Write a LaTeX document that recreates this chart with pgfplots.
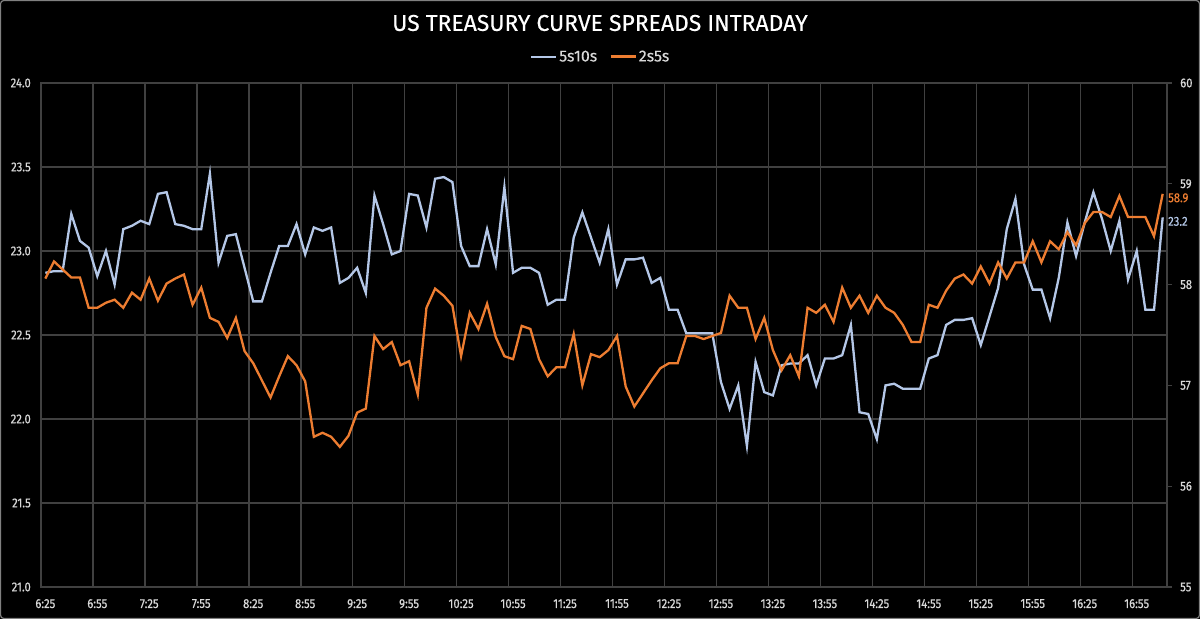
\documentclass[border=0pt]{standalone}
\usepackage{pgfplots}
\pgfplotsset{compat=1.18}
\usepackage{pgfplotstable}
\usetikzlibrary{backgrounds}
\usepackage{fontspec}
\setmainfont{Fira Sans}[FakeBold=0.4]
\newfontfamily\tickfont{Fira Sans}[FakeStretch=0.87, FakeBold=0.5]

\definecolor{bluespread}{HTML}{B4C7E7}
\definecolor{orangespread}{HTML}{ED7D31}
\definecolor{gridgray}{HTML}{404040}
\definecolor{labelgray}{HTML}{D9D9D9}
\definecolor{framegray}{HTML}{808080}

% 5-minute bars from 6:25 (idx 0) to 17:10 (idx 129)
% s510: 5s10s spread (left axis), s25: 2s5s spread (right axis)
\pgfplotstableread{
idx s510 s25
0 22.87 58.06
1 22.88 58.23
2 22.88 58.15
3 23.22 58.07
4 23.06 58.07
5 23.02 57.77
6 22.85 57.77
7 23.00 57.82
8 22.80 57.85
9 23.13 57.77
10 23.15 57.92
11 23.18 57.85
12 23.16 58.06
13 23.34 57.84
14 23.35 58.01
15 23.16 58.06
16 23.15 58.10
17 23.13 57.80
18 23.13 57.97
19 23.46 57.67
20 22.93 57.63
21 23.09 57.47
22 23.10 57.67
23 22.90 57.34
24 22.70 57.22
25 22.70 57.05
26 22.87 56.88
27 23.03 57.09
28 23.03 57.29
29 23.16 57.20
30 22.98 57.04
31 23.14 56.49
32 23.12 56.53
33 23.14 56.49
34 22.81 56.39
35 22.84 56.50
36 22.90 56.73
37 22.75 56.77
38 23.33 57.49
39 23.16 57.36
40 22.98 57.43
41 23.00 57.20
42 23.34 57.24
43 23.33 56.91
44 23.14 57.77
45 23.43 57.96
46 23.44 57.89
47 23.41 57.79
48 23.03 57.29
49 22.91 57.72
50 22.91 57.56
51 23.13 57.81
52 22.92 57.48
53 23.38 57.29
54 22.87 57.26
55 22.90 57.59
56 22.90 57.56
57 22.87 57.26
58 22.68 57.09
59 22.71 57.18
60 22.71 57.18
61 23.08 57.51
62 23.23 57.00
63 23.08 57.31
64 22.93 57.28
65 23.13 57.35
66 22.80 57.49
67 22.95 56.99
68 22.95 56.79
69 22.96 56.92
70 22.81 57.05
71 22.84 57.17
72 22.65 57.22
73 22.65 57.22
74 22.51 57.49
75 22.51 57.49
76 22.51 57.46
77 22.51 57.49
78 22.22 57.52
79 22.06 57.89
80 22.20 57.77
81 21.84 57.77
82 22.34 57.46
83 22.16 57.67
84 22.14 57.35
85 22.32 57.15
86 22.33 57.30
87 22.33 57.09
88 22.38 57.77
89 22.20 57.72
90 22.36 57.80
91 22.36 57.63
92 22.38 57.97
93 22.56 57.77
94 22.04 57.89
95 22.03 57.72
96 21.88 57.89
97 22.20 57.77
98 22.21 57.72
99 22.18 57.60
100 22.18 57.43
101 22.18 57.43
102 22.36 57.80
103 22.38 57.77
104 22.56 57.94
105 22.59 58.06
106 22.59 58.10
107 22.60 58.01
108 22.44 58.18
109 22.61 58.01
110 22.78 58.22
111 23.13 58.06
112 23.31 58.22
113 22.92 58.22
114 22.77 58.43
115 22.77 58.22
116 22.60 58.43
117 22.84 58.35
118 23.17 58.52
119 22.97 58.39
120 23.17 58.61
121 23.35 58.72
122 23.19 58.72
123 23.00 58.67
124 23.18 58.88
125 22.83 58.67
126 23.00 58.67
127 22.65 58.67
128 22.65 58.48
129 23.20 58.90
}\spreads

\pgfplotsset{
  spreadaxis/.style={
    scale only axis, width=1126bp, height=504bp,
    xmin=-0.5, xmax=129.5, clip=false,
    /pgf/number format/assume math mode=true,
    tick label style={text=labelgray, font=\tickfont\fontsize{13}{15}\selectfont},
    axis line style={gridgray, line width=1.3bp},
  },
}

\begin{document}
\begin{tikzpicture}[x=1bp,y=1bp]

% left axis: 5s10s
\begin{axis}[spreadaxis, name=main,
  ymin=21, ymax=24, ytick={21,21.5,...,24},
  yticklabel style={/pgf/number format/.cd, fixed, fixed zerofill, precision=1, /tikz/.cd,
    anchor=east, inner sep=0pt, xshift=-10bp},
  xtick={0,6,...,126},
  xticklabels={6:25,6:55,7:25,7:55,8:25,8:55,9:25,9:55,10:25,10:55,11:25,11:55,12:25,12:55,13:25,13:55,14:25,14:55,15:25,15:55,16:25,16:55},
  xticklabel style={anchor=north, inner sep=0pt, yshift=-12bp},
  minor xtick={5.5,11.5,...,125.5},
  ymajorgrids, xminorgrids,
  major grid style={gridgray, line width=1.3bp},
  minor grid style={gridgray, line width=1.3bp},
  major tick length=0pt, minor tick length=0pt,
  legend style={at={(0.497,1.052)}, anchor=center, draw=none, fill=none,
    text=labelgray, font=\fontsize{16}{18}\selectfont, legend columns=2,
    nodes={inner xsep=2bp},
    /tikz/every even column/.append style={column sep=10bp}},
  legend image code/.code={\draw[#1] (0bp,0bp) -- (25bp,0bp);},
]
\addplot[bluespread, line width=2.3bp] table[x=idx, y=s510] {\spreads};
\addlegendentry{5s10s}
\addlegendimage{orangespread, line width=2.6bp}
\addlegendentry{2s5s}
\node[anchor=west, inner sep=1bp, yshift=-4bp, text=bluespread, font=\tickfont\fontsize{13}{15}\selectfont]
  at (axis cs:129.5,23.2) {23.2};
\coordinate (boxNW) at (rel axis cs:0,1);
\end{axis}

% right axis: 2s5s
\begin{axis}[spreadaxis, at={(boxNW)}, anchor=north west,
  axis x line=none, axis y line*=right,
  ymin=55, ymax=60, ytick={55,...,60},
  tick align=outside, major tick length=5bp,
  ytick style={gridgray, line width=1.3bp},
  yticklabel style={anchor=west, inner sep=0pt, xshift=8bp},
]
\addplot[orangespread, line width=2.3bp] table[x=idx, y=s25] {\spreads};
\node[anchor=west, inner sep=1bp, yshift=-4bp, text=orangespread, font=\tickfont\fontsize{13}{15}\selectfont]
  at (axis cs:129.5,58.9) {58.9};
\end{axis}

% page background, frame and title, placed from the plot box's top-left corner
\begin{scope}[on background layer, shift={(boxNW)}]
  \fill[black] (-41,83) rectangle (1159,-536);
  \draw[framegray, line width=1.2bp, rounded corners=3bp] (-40.4,82.4) rectangle (1158.4,-535.4);
\end{scope}
\begin{scope}[shift={(boxNW)}]
  \node[text=white, font=\fontsize{23}{27}\selectfont] at (559,60) {US TREASURY CURVE SPREADS INTRADAY};
\end{scope}

\pgfresetboundingbox
\path[use as bounding box, shift={(boxNW)}] (-41,83) rectangle (1159,-536);
\end{tikzpicture}
\end{document}
